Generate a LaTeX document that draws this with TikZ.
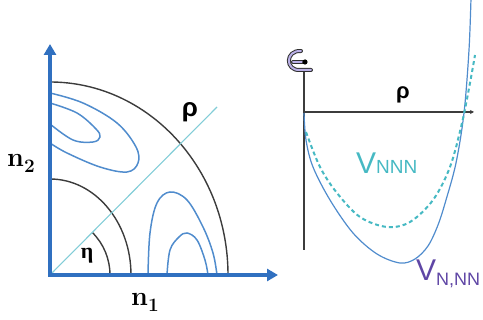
\documentclass[tikz,border=0pt]{standalone}
\usepackage{fontspec}
\newfontfamily\sansf{Liberation Sans}
\newfontfamily\serf{Liberation Serif}
\usetikzlibrary{arrows.meta}
\definecolor{axisblue}{RGB}{48,112,192}
\definecolor{contblue}{RGB}{80,140,205}
\definecolor{arcgray}{RGB}{60,60,60}
\definecolor{diagcyan}{RGB}{130,205,215}
\definecolor{vnnn}{RGB}{70,185,195}
\definecolor{vnnnn}{RGB}{95,70,165}
\definecolor{lav}{RGB}{185,175,230}
\tikzset{
  axisline/.style={draw=axisblue,line width=3.5pt},
  arcline/.style={draw=arcgray,line width=1.4pt},
  contour/.style={draw=contblue,line width=1.5pt},
  diag/.style={draw=diagcyan,line width=1.1pt},
  raxis/.style={draw=arcgray,line width=1.4pt},
  lbl/.style={inner sep=0pt},
}
\begin{document}
\begin{tikzpicture}[x=1pt,y=-1pt]
\useasboundingbox (0,0) rectangle (483,320);
\clip (0,0) rectangle (483,320);
% ---------- left panel ----------
\coordinate (O) at (50,275);
\coordinate (D) at (217,107);
% arcs
\draw[arcline] (228,275) arc[start angle=0,end angle=-90,x radius=178,y radius=193];
\draw[arcline] (131,275) arc[start angle=0,end angle=-90,x radius=81,y radius=96];
\draw[arcline] (110,275) arc[start angle=0,end angle=-45,radius=60];
% diagonal
\draw[diag] (O) -- (D);
% contours upper-left
\draw[contour] plot[smooth,tension=0.6] coordinates {(50,93) (83,103) (117,123) (136,147) (138,163) (127,172) (100,167) (67,153) (50,143)};
\draw[contour] plot[smooth,tension=0.6] coordinates {(50,103) (77,113) (96,129) (100,137) (93,142) (73,140) (50,124)};
% contours lower-right
\draw[contour] plot[smooth,tension=0.6] coordinates {(148,275) (150,233) (157,203) (170,192) (187,200) (203,227) (213,253) (217,275)};
\draw[contour] plot[smooth,tension=0.6] coordinates {(167,275) (170,250) (179,237) (187,233) (197,240) (205,260) (208,275)};
% axes
\coordinate (YT) at (50,44);
\coordinate (XT) at (278,275);
\draw[axisline,-{Triangle[width=12pt,length=11pt]}] (50,277) -- (YT);
\draw[axisline,-{Triangle[width=12pt,length=11pt]}] (48,275) -- (XT);
% labels
\node[lbl] (n2) at (21,163) {\bfseries\fontsize{27}{27}\selectfont n\raisebox{-6pt}{\fontsize{19}{19}\selectfont 2}};
\node[lbl] (n1) at (145,302) {\bfseries\fontsize{27}{27}\selectfont n\raisebox{-6pt}{\fontsize{19}{19}\selectfont 1}};
\node[lbl] (eta) at (87,256) {\serf\bfseries\fontsize{22}{22}\selectfont η};
\node[lbl] (rho1) at (190,112) {\sansf\bfseries\fontsize{26}{26}\selectfont ρ};
% ---------- right panel ----------
\coordinate (VT) at (304,72);
\coordinate (VB) at (304,250);
\coordinate (HL) at (304,112);
\coordinate (HR) at (474,112);
\draw[raxis] (VT) -- (VB);
\draw[raxis,-{Stealth[length=4pt,width=4pt]}] (HL) -- (HR);
% glyph at top of axis
\draw[draw=arcgray!80!black,line width=4pt,line cap=round] (301,51) .. controls (285,50) and (285,71) .. (300,70) -- (311,70);
\draw[draw=arcgray!80!black,line width=4pt,line cap=round] (293,62) -- (304,62);
\draw[draw=lav,line width=2pt,line cap=round] (301,51) .. controls (285,50) and (285,71) .. (300,70) -- (311,70);
\draw[draw=lav,line width=2pt,line cap=round] (293,62) -- (302,62);
\fill[black] (305,62) circle[radius=2.6pt];
\node[lbl] (rho2) at (403,95) {\sansf\bfseries\fontsize{22}{22}\selectfont ρ};
% potentials
\draw[draw=contblue,line width=1.2pt] plot[smooth,tension=0.55] coordinates {(304,113) (306,140) (313,167) (330,200) (353,233) (377,254) (400,263) (415,259) (428,246) (438,225) (446,200) (456,163) (464,113) (469,50) (471,-2)};
\draw[draw=vnnn,line width=2pt,dash pattern=on 4pt off 3pt] plot[smooth,tension=0.55] coordinates {(306,132) (320,167) (337,193) (360,217) (387,227) (410,222) (433,200) (450,167) (462,123) (470,83) (475,55)};
\node[lbl,anchor=base west] (vnnnlbl) at (356,174) {\sansf\color{vnnn}\fontsize{30}{30}\selectfont V\fontsize{19}{19}\selectfont NNN};
\node[lbl,anchor=base west] (vnnlbl) at (416,281) {\sansf\color{vnnnn}\fontsize{30}{30}\selectfont V\raisebox{-5pt}{\fontsize{18}{18}\selectfont N,NN}};
\end{tikzpicture}
\end{document}
